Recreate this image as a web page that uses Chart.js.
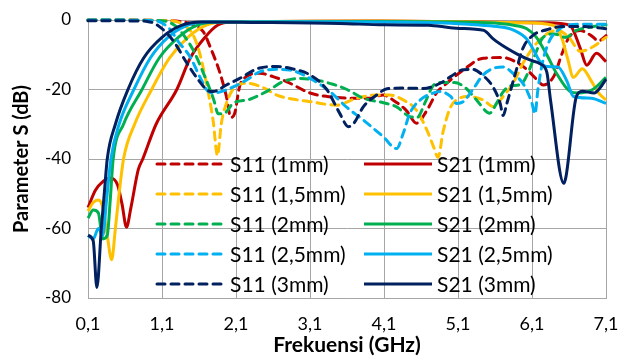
<!DOCTYPE html>
<html>
<head>
<meta charset="utf-8">
<script src="https://cdn.jsdelivr.net/npm/chart.js@4.4.1/dist/chart.umd.min.js"></script>
<style>
  html, body { margin: 0; padding: 0; background: #fff; }
</style>
</head>
<body>
<canvas id="sparamChart" width="622" height="358"></canvas>
<script>
// frequency ticks (GHz) and dB ticks
const xTicks = [0.1, 1.1, 2.1, 3.1, 4.1, 5.1, 6.1, 7.1];
const yTicks = [0, -20, -40, -60, -80];

// measured curves, [frequency GHz, dB]
const s11_1mm = [[0.1,0],[1.0,-0.1],[1.45,-0.8],[1.58,-2],[1.66,-3.4],[1.75,-7.7],[1.88,-15],[1.97,-22],[2.03,-28],[2.08,-27],[2.15,-19],[2.24,-16.3],[2.42,-15.3],[2.6,-16.3],[2.78,-17.7],[3.1,-21],[3.33,-22],[3.64,-22.5],[3.9,-22.5],[4.09,-21.6],[4.22,-23],[4.4,-26],[4.54,-29.7],[4.68,-26],[4.81,-21],[4.95,-18.2],[5.17,-14.4],[5.44,-11],[5.7,-10.8],[5.98,-13.4],[6.16,-17],[6.25,-18.7],[6.4,-16],[6.5,-10],[6.6,-5],[6.75,-3],[6.9,-4.5],[7.0,-6],[7.1,-4.5]];
const s21_1mm = [[0.1,-54],[0.2,-49],[0.3,-46.5],[0.4,-45.5],[0.5,-47.5],[0.56,-53],[0.62,-59.6],[0.68,-54],[0.78,-43],[0.84,-40],[1.02,-30],[1.3,-20],[1.48,-11],[1.68,-5],[1.85,-1.5],[2.05,-0.6],[4,-0.3],[6.3,-0.8],[6.61,-1.5],[6.75,-8],[6.84,-13],[6.97,-9.6],[7.1,-12]];
const s11_15mm = [[0.1,0],[1.2,-0.2],[1.4,-1.5],[1.52,-4.3],[1.61,-9.6],[1.7,-18.2],[1.79,-28.8],[1.85,-39],[1.9,-30],[1.97,-24],[2.1,-19],[2.24,-18.2],[2.47,-19.5],[2.65,-21.6],[2.88,-22.8],[3.1,-23.5],[3.46,-24.5],[3.73,-22.5],[4.0,-21.6],[4.18,-21.6],[4.36,-23],[4.54,-26],[4.68,-31.7],[4.77,-36.5],[4.83,-39.5],[4.9,-32],[5.0,-25],[5.08,-23],[5.22,-22],[5.44,-23],[5.58,-25],[5.71,-22],[5.85,-18],[5.98,-12.4],[6.15,-7],[6.3,-4],[6.45,-3],[6.6,-5],[6.75,-9],[6.9,-8],[7.1,-5]];
const s21_15mm = [[0.1,-55],[0.17,-52.5],[0.24,-51.8],[0.3,-54],[0.36,-62],[0.42,-69],[0.47,-60],[0.52,-50],[0.58,-40],[0.73,-30],[0.96,-20],[1.2,-11],[1.45,-5],[1.7,-1.5],[1.95,-0.6],[4,-0.3],[6,-0.8],[6.38,-1.5],[6.5,-5],[6.58,-11],[6.66,-16.5],[6.78,-14],[6.9,-17.5],[7.0,-21],[7.1,-23]];
const s11_2mm = [[0.1,0],[1.1,-0.2],[1.3,-2],[1.39,-4.3],[1.52,-8.6],[1.66,-15.3],[1.8,-23],[1.86,-27],[1.93,-27],[2.06,-24],[2.29,-22.8],[2.51,-20.6],[2.74,-17.7],[2.96,-16.8],[3.19,-17.3],[3.41,-18.5],[3.6,-20],[3.82,-22.5],[4.09,-23.8],[4.27,-25],[4.45,-27.8],[4.55,-28],[4.65,-24],[4.76,-19],[4.86,-18],[5.05,-18],[5.2,-19.5],[5.35,-23],[5.53,-26.8],[5.62,-24],[5.7,-21],[5.8,-19],[5.95,-18.5],[6.05,-15],[6.16,-9],[6.25,-5],[6.4,-4],[6.55,-5],[6.7,-3],[6.9,-2],[7.1,-1.4]];
const s21_2mm = [[0.1,-57],[0.17,-54.7],[0.24,-55.5],[0.3,-63],[0.36,-62],[0.4,-52],[0.44,-40],[0.58,-30],[0.83,-20],[1.06,-11],[1.32,-5],[1.58,-1.5],[1.85,-0.6],[4,-0.4],[5.5,-0.8],[5.85,-1.5],[6.03,-2.5],[6.16,-5],[6.3,-10],[6.43,-15.3],[6.61,-20.5],[6.72,-21],[6.92,-20],[7.1,-16.5]];
const s11_25mm = [[0.1,0],[1.0,-0.2],[1.2,-2.5],[1.32,-6.2],[1.48,-10.6],[1.61,-16.3],[1.72,-20.5],[1.8,-21],[1.97,-20.1],[2.24,-17.3],[2.42,-14.9],[2.65,-14.2],[2.83,-14.4],[3.1,-16.8],[3.37,-20.6],[3.59,-25],[3.82,-28.8],[4.09,-33.6],[4.27,-37],[4.36,-32.6],[4.45,-26.8],[4.59,-23],[4.77,-21],[4.86,-20.6],[5.0,-22],[5.08,-24],[5.17,-23.5],[5.3,-20],[5.44,-15.8],[5.58,-13.9],[5.71,-13.5],[5.85,-15.5],[6.0,-19],[6.1,-24],[6.14,-27],[6.18,-20],[6.25,-11.5],[6.34,-5.8],[6.45,-3],[6.6,-1.4],[6.9,-1.2],[7.1,-1.2]];
const s21_25mm = [[0.1,-62],[0.17,-63],[0.24,-60],[0.3,-62],[0.35,-52],[0.41,-40],[0.52,-30],[0.72,-20],[0.94,-11],[1.18,-5],[1.45,-1.5],[1.7,-0.6],[3,-0.5],[5,-0.9],[5.3,-1.3],[5.63,-1.9],[5.85,-2.9],[6.03,-5.5],[6.12,-8.6],[6.21,-12],[6.3,-13.4],[6.45,-13.5],[6.57,-17.5],[6.66,-22],[6.9,-22.5],[7.1,-24]];
const s11_3mm = [[0.1,-0.2],[0.8,-0.3],[0.9,-0.4],[1.0,-1],[1.1,-2.5],[1.2,-4.6],[1.3,-7.5],[1.41,-11.5],[1.6,-17.5],[1.72,-20.3],[1.79,-20.6],[1.97,-18.7],[2.15,-16.8],[2.42,-13.8],[2.65,-13.4],[2.83,-13.9],[3.1,-15.8],[3.33,-20.1],[3.5,-26.8],[3.62,-30.7],[3.7,-29.5],[3.82,-25],[4.0,-21.6],[4.14,-19.8],[4.36,-19.6],[4.63,-19.7],[4.86,-18.2],[5.0,-16.3],[5.17,-14.3],[5.3,-14.2],[5.44,-16],[5.58,-19.5],[5.67,-24],[5.71,-27.5],[5.76,-24],[5.87,-15.8],[5.98,-8],[6.12,-4.3],[6.3,-2.8],[6.5,-1.9],[6.8,-1.9],[7.1,-2.5]];
const s21_3mm = [[0.1,-62],[0.17,-63.5],[0.22,-77],[0.28,-60],[0.32,-50],[0.36,-40],[0.47,-30],[0.64,-20],[0.85,-11],[1.1,-5],[1.37,-1.5],[1.64,-0.6],[2.3,-0.7],[3.5,-1.0],[4.1,-1.4],[4.7,-1.5],[5.0,-2.2],[5.3,-2.6],[5.45,-3],[5.58,-5.5],[5.75,-8],[5.9,-9.8],[6.07,-11.5],[6.21,-12.6],[6.3,-15],[6.35,-23],[6.53,-47],[6.56,-45],[6.7,-22],[6.78,-20.5],[6.94,-21],[7.02,-19.5],[7.1,-17]];

const seriesLabels = ['S11 (1mm)', 'S21 (1mm)', 'S11 (1,5mm)', 'S21 (1,5mm)', 'S11 (2mm)', 'S21 (2mm)', 'S11 (2,5mm)', 'S21 (2,5mm)', 'S11 (3mm)', 'S21 (3mm)'];
const seriesData = [s11_1mm, s21_1mm, s11_15mm, s21_15mm, s11_2mm, s21_2mm, s11_25mm, s21_25mm, s11_3mm, s21_3mm];
const seriesColors = ['#C00000', '#C00000', '#FFC000', '#FFC000', '#00B050', '#00B050', '#00B0F0', '#00B0F0', '#002060', '#002060'];

const FONT = 'Lato';
const DASH = [8, 6];

const series = seriesLabels.map((label, i) => ({
    label: label,
    data: seriesData[i].map(p => ({ x: p[0], y: p[1] })),
    borderColor: seriesColors[i],
    backgroundColor: seriesColors[i],
    borderWidth: 3,
    borderDash: label.startsWith('S11') ? DASH : [],
    borderCapStyle: label.startsWith('S11') ? 'round' : 'butt',
    borderJoinStyle: 'round',
    pointRadius: 0,
    cubicInterpolationMode: 'monotone',
    clip: false
}));

// legend drawn inside the plot, two columns (S11 left, S21 right)
const insideLegend = {
    id: 'insideLegend',
    afterDatasetsDraw(chart) {
        const ctx = chart.ctx;
        ctx.save();
        ctx.font = '21px ' + FONT;
        ctx.textBaseline = 'middle';
        ctx.fillStyle = '#000';
        series.forEach((s, i) => {
            const row = Math.floor(i / 2);
            const col = i % 2;
            const y = 164 + row * 30;
            const x0 = col === 0 ? 155 : 362;
            ctx.strokeStyle = s.borderColor;
            ctx.lineWidth = 3;
            ctx.lineCap = s.borderCapStyle;
            ctx.setLineDash(s.borderDash);
            ctx.beginPath();
            ctx.moveTo(x0 + 2, y);
            ctx.lineTo(x0 + 70, y);
            ctx.stroke();
            ctx.setLineDash([]);
            ctx.fillText(s.label, x0 + 75, y + 1);
        });
        ctx.restore();
    }
};

// keep the plot box fixed: no extra room for overhanging tick labels
function noPad(scale) {
    scale.paddingTop = 0;
    scale.paddingBottom = 0;
    scale.paddingLeft = 0;
    scale.paddingRight = 0;
}

new Chart(document.getElementById('sparamChart'), {
    type: 'line',
    data: { datasets: series.slice().reverse() },
    options: {
        responsive: false,
        animation: false,
        layout: { padding: { top: 20, right: 16, left: 0, bottom: 0 } },
        plugins: { legend: { display: false }, tooltip: { enabled: false } },
        scales: {
            x: {
                type: 'linear',
                min: 0.1,
                max: 7.1,
                afterBuildTicks: (scale) => { scale.ticks = xTicks.map(v => ({ value: v })); },
                afterFit: (scale) => { scale.height = 60; noPad(scale); },
                grid: { color: '#a6a6a6', drawTicks: false },
                border: { color: '#a6a6a6' },
                ticks: {
                    padding: 15,
                    color: '#000',
                    font: { family: FONT, size: 18 },
                    maxRotation: 0,
                    callback: (v) => v.toFixed(1).replace('.', ',')
                },
                title: {
                    display: true,
                    text: 'Frekuensi (GHz)',
                    color: '#000',
                    font: { family: FONT, size: 21, weight: 'bold' },
                    padding: { top: 0, bottom: 0 }
                }
            },
            y: {
                min: -80,
                max: 0,
                afterBuildTicks: (scale) => { scale.ticks = yTicks.map(v => ({ value: v })); },
                afterFit: (scale) => { scale.width = 88; noPad(scale); },
                grid: { color: '#a6a6a6', drawTicks: false },
                border: { color: '#a6a6a6' },
                ticks: {
                    padding: 17,
                    color: '#000',
                    font: { family: FONT, size: 17 }
                },
                title: {
                    display: true,
                    text: 'Parameter S (dB)',
                    color: '#000',
                    font: { family: FONT, size: 20, weight: 'bold' },
                    padding: { top: 10, bottom: 0 }
                }
            }
        }
    },
    plugins: [insideLegend]
});
</script>
</body>
</html>
